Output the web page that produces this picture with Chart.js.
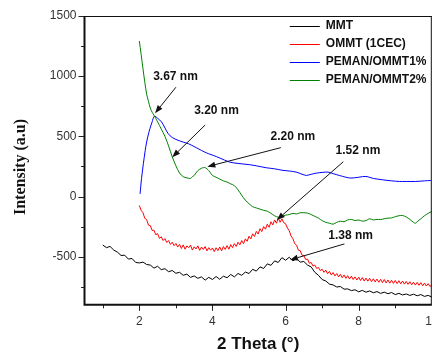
<!DOCTYPE html>
<html><head><meta charset="utf-8">
<script src="https://cdn.jsdelivr.net/npm/chart.js@4.4.1/dist/chart.umd.min.js"></script>
<style>html,body{margin:0;padding:0;background:#fff;overflow:hidden;} #wrap{width:445px;height:353px;}</style>
</head><body><div id="wrap"><canvas id="c" width="445" height="353"></canvas></div>
<script>
const seriesNames = ['MMT', 'OMMT (1CEC)', 'PEMAN/OMMT1%', 'PEMAN/OMMT2%'];

const mmtX = [1,1.1,1.2,1.3,1.4,1.5,1.6,1.7,1.8,1.9,
2,2.1,2.2,2.3,2.4,2.5,2.6,2.7,2.8,2.9,
3,3.1,3.2,3.3,3.4,3.5,3.6,3.7,3.8,3.9,
4,4.1,4.2,4.3,4.4,4.5,4.6,4.7,4.8,4.9,
5,5.1,5.2,5.3,5.4,5.5,5.6,5.7,5.8,5.9,
6,6.1,6.2,6.3,6.4,6.5,6.6,6.7,6.8,6.9,
7,7.1,7.2,7.3,7.4,7.5,7.6,7.7,7.8,7.9,
8,8.1,8.2,8.3,8.4,8.5,8.6,8.7,8.8,8.9,
9,9.1,9.2,9.3,9.4,9.5,9.6,9.7,9.8,9.9,10];
const mmtY = [-403,-425,-415,-445,-462,-490,-488,-520,-515,-548,
-552,-545,-565,-570,-595,-580,-608,-600,-625,-615,
-638,-630,-655,-645,-672,-660,-680,-668,-695,-672,
-690,-665,-688,-662,-675,-648,-668,-640,-655,-628,
-640,-605,-620,-585,-598,-560,-572,-535,-548,-508,
-530,-505,-535,-515,-545,-540,-570,-585,-630,-655,
-690,-702,-728,-735,-752,-748,-770,-768,-782,-775,
-792,-780,-795,-785,-800,-790,-805,-795,-808,-798,
-815,-805,-818,-810,-822,-812,-825,-815,-830,-822,-835];

const ommtX = [2,2.05,2.1,2.15,2.2,2.25,2.3,2.35,2.4,2.45,2.5,2.55,2.6,2.65,2.7,2.75,2.8,2.85,2.9,2.95,
3,3.05,3.1,3.15,3.2,3.25,3.3,3.35,3.4,3.45,3.5,3.55,3.6,3.65,3.7,3.75,3.8,3.85,3.9,3.95,
4,4.05,4.1,4.15,4.2,4.25,4.3,4.35,4.4,4.45,4.5,4.55,4.6,4.65,4.7,4.75,4.8,4.85,4.9,4.95,
5,5.05,5.1,5.15,5.2,5.25,5.3,5.35,5.4,5.45,5.5,5.55,5.6,5.65,5.7,5.75,5.8,5.85,5.9,5.95,
6,6.05,6.1,6.15,6.2,6.25,6.3,6.35,6.4,6.45,6.5,6.55,6.6,6.65,6.7,6.75,6.8,6.85,6.9,6.95,
7,7.05,7.1,7.15,7.2,7.25,7.3,7.35,7.4,7.45,7.5,7.55,7.6,7.65,7.7,7.75,7.8,7.85,7.9,7.95,
8,8.05,8.1,8.15,8.2,8.25,8.3,8.35,8.4,8.45,8.5,8.55,8.6,8.65,8.7,8.75,8.8,8.85,8.9,8.95,
9,9.05,9.1,9.15,9.2,9.25,9.3,9.35,9.4,9.45,9.5,9.55,9.6,9.65,9.7,9.75,9.8,9.85,9.9,9.95,10];
const ommtY = [-75,-115,-135,-182,-192,-238,-242,-282,-280,-318,-308,-348,-335,-366,-350,-382,-366,-398,-380,-408,
-390,-420,-398,-432,-402,-438,-410,-425,-404,-445,-418,-436,-410,-448,-420,-440,-416,-452,-425,-446,
-428,-458,-426,-450,-420,-452,-416,-440,-408,-438,-400,-425,-392,-415,-380,-402,-366,-392,-352,-372,
-330,-352,-310,-332,-290,-312,-268,-292,-250,-272,-230,-256,-210,-236,-195,-222,-180,-214,-186,-218,
-226,-262,-284,-328,-350,-392,-404,-446,-450,-488,-490,-524,-520,-555,-548,-578,-570,-598,-590,-616,
-604,-630,-612,-642,-622,-652,-632,-660,-640,-668,-646,-675,-652,-680,-658,-686,-662,-690,-668,-694,
-670,-698,-674,-702,-678,-704,-680,-708,-684,-710,-686,-712,-688,-716,-690,-718,-694,-720,-696,-722,
-698,-724,-700,-726,-702,-728,-706,-730,-708,-733,-712,-736,-714,-738,-716,-742,-720,-744,-724,-748,-735];

const pem1X = [2.02,2.06,2.11,2.16,2.2,2.25,2.29,2.35,2.41,2.5,2.61,2.7,2.79,2.9,3.06,3.2,3.34,3.5,3.61,3.79,3.9,
4.02,4.2,4.47,4.7,5.02,5.2,5.47,5.7,5.93,6.1,6.29,6.45,6.57,6.7,6.84,7,7.16,7.3,7.47,7.65,7.79,
8,8.2,8.4,8.65,8.9,9.11,9.3,9.56,9.8,9.97];
const pem1Y = [22,150,272,380,453,520,564,620,667,650,619,570,522,490,467,452,439,415,397,369,355,
342,320,286,275,264,255,239,230,217,212,203,185,175,185,194,200,203,190,175,160,153,
160,167,150,139,130,125,125,125,130,133];

const pem2X = [2,2.05,2.1,2.15,2.2,2.25,2.3,2.35,2.4,2.5,2.6,2.7,2.8,2.9,
3,3.1,3.2,3.3,3.4,3.45,3.5,3.6,3.7,3.8,3.9,
4,4.1,4.2,4.3,4.4,4.5,4.6,4.7,4.8,4.9,
5,5.1,5.2,5.3,5.4,5.5,5.6,5.7,5.8,5.9,
6,6.1,6.2,6.3,6.4,6.5,6.6,6.7,6.8,6.9,
7,7.1,7.2,7.3,7.4,7.5,7.6,7.7,7.8,7.9,
8,8.1,8.2,8.3,8.4,8.5,8.6,8.7,8.8,8.9,
9,9.1,9.2,9.3,9.4,9.5,9.55,9.6,9.7,9.8,9.9,10];
const pem2Y = [1292,1180,1060,950,850,790,735,700,675,620,560,500,420,330,
255,195,165,155,150,165,175,215,235,240,215,
175,160,145,130,120,105,90,55,10,-30,
-60,-85,-95,-105,-115,-122,-140,-160,-172,-165,
-155,-150,-140,-145,-135,-135,-138,-150,-165,-180,
-200,-215,-222,-230,-215,-205,-210,-195,-190,-200,
-195,-205,-200,-185,-195,-190,-192,-185,-180,-178,
-168,-160,-158,-170,-190,-215,-222,-210,-185,-160,-140,-125];

const seriesColors = ['#000000', '#ff0000', '#0000ff', '#008000'];

const xMajorTicks = [2, 4, 6, 8, 10];
const xMinorTicks = [1, 3, 5, 7, 9];
const yMajorTicks = [-500, 0, 500, 1000, 1500];
const yMinorTicks = [-750, -250, 250, 750, 1250];

const annLabels = ['3.67 nm', '3.20 nm', '2.20 nm', '1.52 nm', '1.38 nm'];
const annTextX = [2.99, 4.11, 6.20, 7.98, 7.78];
const annTextY = [993, 711, 495, 378, -328];
const annTailX = [3.0, 3.80, 5.87, 7.58, 7.61];
const annTailY = [908, 594, 406, 289, -394];
const annHeadX = [2.43, 2.90, 3.86, 5.76, 6.12];
const annHeadY = [692, 326, 248, -195, -527];

const xs = [mmtX, ommtX, pem1X, pem2X];
const ys = [mmtY, ommtY, pem1Y, pem2Y];

const datasets = seriesNames.map((name, k) => ({
  label: name,
  data: xs[k].map((x, i) => ({x: x, y: ys[k][i]})),
  borderColor: seriesColors[k],
  backgroundColor: seriesColors[k],
  borderWidth: 1,
  pointRadius: 0,
  tension: k >= 2 ? 0.3 : 0,
  fill: false,
  order: 4 - k
}));

const sans = 'Liberation Sans, Arial, sans-serif';

const decor = {
  id: 'decor',
  afterDatasetsDraw(chart) {
    const {ctx, chartArea: a, scales: {x, y}} = chart;
    ctx.save();
    ctx.strokeStyle = '#222';
    ctx.lineWidth = 1;
    const tx = (v, len) => { const p = Math.round(x.getPixelForValue(v)) + 0.5; ctx.beginPath(); ctx.moveTo(p, a.bottom); ctx.lineTo(p, a.bottom + len); ctx.stroke(); };
    const ty = (v, len) => { const p = Math.round(y.getPixelForValue(v)) + 0.5; ctx.beginPath(); ctx.moveTo(a.left, p); ctx.lineTo(a.left - len, p); ctx.stroke(); };
    xMajorTicks.forEach(v => tx(v, 6));
    xMinorTicks.forEach(v => tx(v, 3.5));
    yMajorTicks.forEach(v => ty(v, 6));
    yMinorTicks.forEach(v => ty(v, 3.5));
    // frame
    ctx.strokeStyle = '#111';
    ctx.lineWidth = 1;
    ctx.beginPath();
    ctx.moveTo(a.left, a.top + 0.5); ctx.lineTo(a.right, a.top + 0.5);
    ctx.moveTo(a.right - 0.5, a.top); ctx.lineTo(a.right - 0.5, a.bottom);
    ctx.stroke();
    ctx.lineWidth = 2;
    ctx.beginPath();
    ctx.moveTo(a.left, a.top); ctx.lineTo(a.left, a.bottom + 1);
    ctx.moveTo(a.left - 1, a.bottom); ctx.lineTo(a.right, a.bottom);
    ctx.stroke();
    // y axis title
    ctx.save();
    ctx.translate(21, 167);
    ctx.rotate(-Math.PI / 2);
    ctx.font = 'bold 16px Liberation Serif, Times New Roman, serif';
    ctx.fillStyle = '#111';
    ctx.textAlign = 'center';
    ctx.textBaseline = 'middle';
    ctx.fillText('Intensity (a.u)', 0, 0);
    ctx.restore();
    // legend
    ctx.font = 'bold 12px ' + sans;
    ctx.textBaseline = 'middle';
    ctx.textAlign = 'left';
    seriesNames.forEach((name, k) => {
      const yy = a.top + 9.5 + 18 * k;
      ctx.strokeStyle = seriesColors[k];
      ctx.lineWidth = 1;
      ctx.beginPath();
      ctx.moveTo(a.right - 142, Math.round(yy) + 0.5);
      ctx.lineTo(a.right - 112, Math.round(yy) + 0.5);
      ctx.stroke();
      ctx.fillStyle = '#111';
      ctx.fillText(name, a.right - 106, yy);
    });
    // annotations
    ctx.textAlign = 'center';
    annLabels.forEach((t, i) => {
      ctx.fillStyle = '#111';
      ctx.fillText(t, x.getPixelForValue(annTextX[i]), y.getPixelForValue(annTextY[i]));
      const x1 = x.getPixelForValue(annTailX[i]), y1 = y.getPixelForValue(annTailY[i]);
      const x2 = x.getPixelForValue(annHeadX[i]), y2 = y.getPixelForValue(annHeadY[i]);
      const ang = Math.atan2(y2 - y1, x2 - x1);
      const L = 8, W = 3;
      const bx = x2 - L * Math.cos(ang), by = y2 - L * Math.sin(ang);
      ctx.strokeStyle = '#111';
      ctx.lineWidth = 1;
      ctx.beginPath(); ctx.moveTo(x1, y1); ctx.lineTo(bx, by); ctx.stroke();
      ctx.beginPath();
      ctx.moveTo(x2, y2);
      ctx.lineTo(bx + W * Math.sin(ang), by - W * Math.cos(ang));
      ctx.lineTo(bx - W * Math.sin(ang), by + W * Math.cos(ang));
      ctx.closePath();
      ctx.fill();
    });
    ctx.restore();
  }
};

new Chart(document.getElementById('c'), {
  type: 'line',
  data: {datasets: datasets},
  options: {
    responsive: false,
    animation: false,
    devicePixelRatio: 1,
    layout: {padding: {left: 0, top: 16, right: 13.2, bottom: 0}},
    plugins: {legend: {display: false}, tooltip: {enabled: false}},
    scales: {
      x: {
        type: 'linear', min: 0.5, max: 10,
        afterBuildTicks: s => { s.ticks = xMajorTicks.map(v => ({value: v})); },
        afterFit: s => { s.height = 48.2; s.paddingLeft = 0; s.paddingRight = 0; },
        grid: {display: false, drawTicks: false},
        border: {display: false},
        ticks: {padding: 10, color: '#333', font: {family: sans, size: 12}, maxRotation: 0, autoSkip: false, callback: v => String(v)},
        title: {display: true, text: '2 Theta (°)', color: '#111', font: {family: sans, size: 17, weight: 'bold'}, padding: {top: 0, bottom: -2}}
      },
      y: {
        type: 'linear', min: -900, max: 1500,
        afterBuildTicks: s => { s.ticks = yMajorTicks.map(v => ({value: v})); },
        afterFit: s => { s.width = 84.5; s.paddingTop = 0; s.paddingBottom = 0; },
        grid: {display: false, drawTicks: false},
        border: {display: false},
        ticks: {padding: 8, color: '#333', font: {family: sans, size: 12}, callback: v => String(v)},
        title: {display: false}
      }
    }
  },
  plugins: [decor]
});
</script></body></html>
